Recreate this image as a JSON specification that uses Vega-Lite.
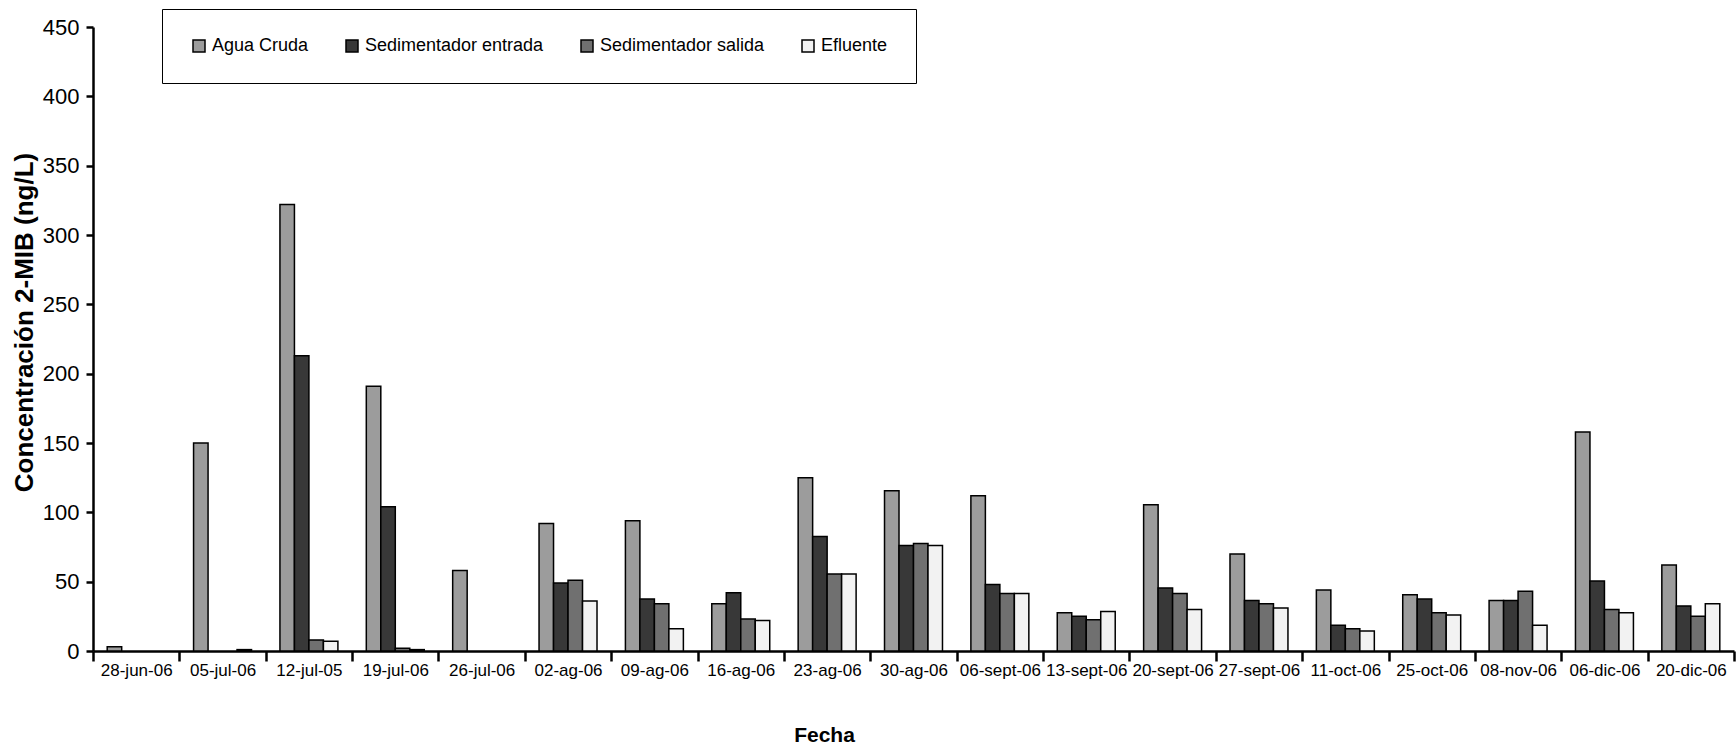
{
  "$schema": "https://vega.github.io/schema/vega-lite/v6.json",
  "autosize": "none",
  "width": 1641,
  "height": 624,
  "padding": {"left": 93, "top": 27, "right": 2, "bottom": 100},
  "background": "white",
  "config": {
    "view": {"stroke": null},
    "font": "Liberation Sans, Arial, sans-serif",
    "axis": {
      "domainColor": "black",
      "domainWidth": 2.5,
      "tickColor": "black",
      "tickWidth": 2.5,
      "labelColor": "black",
      "titleColor": "black",
      "grid": false,
      "labelFont": "Liberation Sans, Arial, sans-serif",
      "titleFont": "Liberation Sans, Arial, sans-serif"
    },
    "legend": {
      "labelFont": "Liberation Sans, Arial, sans-serif"
    }
  },
  "data": {
    "values": [
      {"fecha": "28-jun-06", "serie": "Agua Cruda", "valor": 3},
      {"fecha": "05-jul-06", "serie": "Agua Cruda", "valor": 150},
      {"fecha": "05-jul-06", "serie": "Efluente", "valor": 1},
      {"fecha": "12-jul-05", "serie": "Agua Cruda", "valor": 322},
      {"fecha": "12-jul-05", "serie": "Sedimentador entrada", "valor": 213},
      {"fecha": "12-jul-05", "serie": "Sedimentador salida", "valor": 8},
      {"fecha": "12-jul-05", "serie": "Efluente", "valor": 7},
      {"fecha": "19-jul-06", "serie": "Agua Cruda", "valor": 191},
      {"fecha": "19-jul-06", "serie": "Sedimentador entrada", "valor": 104},
      {"fecha": "19-jul-06", "serie": "Sedimentador salida", "valor": 2},
      {"fecha": "19-jul-06", "serie": "Efluente", "valor": 1},
      {"fecha": "26-jul-06", "serie": "Agua Cruda", "valor": 58},
      {"fecha": "02-ag-06", "serie": "Agua Cruda", "valor": 92},
      {"fecha": "02-ag-06", "serie": "Sedimentador entrada", "valor": 49},
      {"fecha": "02-ag-06", "serie": "Sedimentador salida", "valor": 51},
      {"fecha": "02-ag-06", "serie": "Efluente", "valor": 36},
      {"fecha": "09-ag-06", "serie": "Agua Cruda", "valor": 94},
      {"fecha": "09-ag-06", "serie": "Sedimentador entrada", "valor": 37.5},
      {"fecha": "09-ag-06", "serie": "Sedimentador salida", "valor": 34},
      {"fecha": "09-ag-06", "serie": "Efluente", "valor": 16},
      {"fecha": "16-ag-06", "serie": "Agua Cruda", "valor": 34},
      {"fecha": "16-ag-06", "serie": "Sedimentador entrada", "valor": 42},
      {"fecha": "16-ag-06", "serie": "Sedimentador salida", "valor": 23},
      {"fecha": "16-ag-06", "serie": "Efluente", "valor": 22},
      {"fecha": "23-ag-06", "serie": "Agua Cruda", "valor": 125},
      {"fecha": "23-ag-06", "serie": "Sedimentador entrada", "valor": 82.5},
      {"fecha": "23-ag-06", "serie": "Sedimentador salida", "valor": 55.5},
      {"fecha": "23-ag-06", "serie": "Efluente", "valor": 55.5},
      {"fecha": "30-ag-06", "serie": "Agua Cruda", "valor": 115.5},
      {"fecha": "30-ag-06", "serie": "Sedimentador entrada", "valor": 76},
      {"fecha": "30-ag-06", "serie": "Sedimentador salida", "valor": 77.5},
      {"fecha": "30-ag-06", "serie": "Efluente", "valor": 76},
      {"fecha": "06-sept-06", "serie": "Agua Cruda", "valor": 112},
      {"fecha": "06-sept-06", "serie": "Sedimentador entrada", "valor": 48},
      {"fecha": "06-sept-06", "serie": "Sedimentador salida", "valor": 41.5},
      {"fecha": "06-sept-06", "serie": "Efluente", "valor": 41.5},
      {"fecha": "13-sept-06", "serie": "Agua Cruda", "valor": 27.5},
      {"fecha": "13-sept-06", "serie": "Sedimentador entrada", "valor": 25},
      {"fecha": "13-sept-06", "serie": "Sedimentador salida", "valor": 22.5},
      {"fecha": "13-sept-06", "serie": "Efluente", "valor": 28.5},
      {"fecha": "20-sept-06", "serie": "Agua Cruda", "valor": 105.5},
      {"fecha": "20-sept-06", "serie": "Sedimentador entrada", "valor": 45.5},
      {"fecha": "20-sept-06", "serie": "Sedimentador salida", "valor": 41.5},
      {"fecha": "20-sept-06", "serie": "Efluente", "valor": 30},
      {"fecha": "27-sept-06", "serie": "Agua Cruda", "valor": 70},
      {"fecha": "27-sept-06", "serie": "Sedimentador entrada", "valor": 36.5},
      {"fecha": "27-sept-06", "serie": "Sedimentador salida", "valor": 34},
      {"fecha": "27-sept-06", "serie": "Efluente", "valor": 31},
      {"fecha": "11-oct-06", "serie": "Agua Cruda", "valor": 44},
      {"fecha": "11-oct-06", "serie": "Sedimentador entrada", "valor": 18.5},
      {"fecha": "11-oct-06", "serie": "Sedimentador salida", "valor": 16},
      {"fecha": "11-oct-06", "serie": "Efluente", "valor": 14.5},
      {"fecha": "25-oct-06", "serie": "Agua Cruda", "valor": 40.5},
      {"fecha": "25-oct-06", "serie": "Sedimentador entrada", "valor": 37.5},
      {"fecha": "25-oct-06", "serie": "Sedimentador salida", "valor": 27.5},
      {"fecha": "25-oct-06", "serie": "Efluente", "valor": 26},
      {"fecha": "08-nov-06", "serie": "Agua Cruda", "valor": 36.5},
      {"fecha": "08-nov-06", "serie": "Sedimentador entrada", "valor": 36.5},
      {"fecha": "08-nov-06", "serie": "Sedimentador salida", "valor": 43},
      {"fecha": "08-nov-06", "serie": "Efluente", "valor": 18.5},
      {"fecha": "06-dic-06", "serie": "Agua Cruda", "valor": 158},
      {"fecha": "06-dic-06", "serie": "Sedimentador entrada", "valor": 50.5},
      {"fecha": "06-dic-06", "serie": "Sedimentador salida", "valor": 30},
      {"fecha": "06-dic-06", "serie": "Efluente", "valor": 27.5},
      {"fecha": "20-dic-06", "serie": "Agua Cruda", "valor": 62},
      {"fecha": "20-dic-06", "serie": "Sedimentador entrada", "valor": 32.5},
      {"fecha": "20-dic-06", "serie": "Sedimentador salida", "valor": 25},
      {"fecha": "20-dic-06", "serie": "Efluente", "valor": 34}
    ]
  },
  "mark": {"type": "bar", "stroke": "black", "strokeWidth": 1.5, "opacity": 1},
  "encoding": {
    "x": {
      "field": "fecha",
      "type": "nominal",
      "sort": null,
      "scale": {"paddingInner": 0, "paddingOuter": 0},
      "axis": {
        "title": "Fecha",
        "labelAngle": 0,
        "labelFontSize": 17,
        "labelPadding": 1,
        "labelOverlap": false,
        "tickSize": 10,
        "tickBand": "extent",
        "titleFontSize": 21,
        "titleFontWeight": "bold",
        "titleX": 731,
        "titleY": 84,
        "titleBaseline": "middle",
        "titleAlign": "center"
      }
    },
    "xOffset": {
      "field": "serie",
      "type": "nominal",
      "scale": {
        "domain": ["Agua Cruda", "Sedimentador entrada", "Sedimentador salida", "Efluente"],
        "paddingInner": 0,
        "paddingOuter": 0.98
      }
    },
    "y": {
      "field": "valor",
      "type": "quantitative",
      "scale": {"domain": [0, 450], "nice": false, "zero": true},
      "axis": {
        "title": "Concentración 2-MIB (ng/L)",
        "values": [0, 50, 100, 150, 200, 250, 300, 350, 400, 450],
        "labelFontSize": 22,
        "labelPadding": 7,
        "tickSize": 7,
        "titleFontSize": 26,
        "titleFontWeight": "bold",
        "titleX": -69,
        "titleY": 295,
        "titleBaseline": "middle",
        "titleAlign": "center"
      }
    },
    "fill": {
      "field": "serie",
      "type": "nominal",
      "scale": {
        "domain": ["Agua Cruda", "Sedimentador entrada", "Sedimentador salida", "Efluente"],
        "range": ["#9c9c9c", "#383838", "#707070", "#f2f2f2"]
      },
      "legend": {
        "title": null,
        "orient": "none",
        "legendX": 69,
        "legendY": -18,
        "direction": "horizontal",
        "columns": 4,
        "columnPadding": 34,
        "symbolType": "square",
        "symbolSize": 144,
        "symbolStrokeColor": "black",
        "symbolStrokeWidth": 1.5,
        "symbolOpacity": 1,
        "labelFontSize": 18,
        "labelColor": "black",
        "labelOffset": 4,
        "labelLimit": 400,
        "padding": 28,
        "strokeColor": "black",
        "fillColor": "white"
      }
    }
  }
}
